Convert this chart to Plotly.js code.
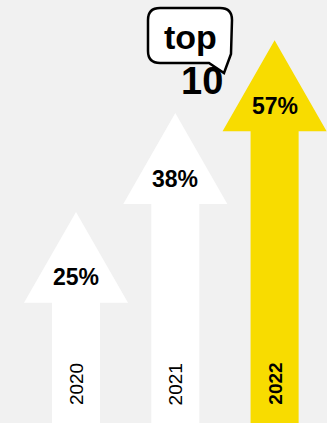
<!DOCTYPE html>
<html>
<head>
<meta charset="utf-8">
<script src="https://cdn.plot.ly/plotly-3.0.1.min.js"></script>
<style>html,body{margin:0;padding:0;background:#f1f1f1;}#chart{width:327px;height:423px;}</style>
</head>
<body>
<div id="chart"></div>
<script>
// Data
var years = ["2020", "2021", "2022"];
var shares = [25, 38, 57];           // percent values shown on arrows
var arrowTop = [49.9, 73.3, 90.5];   // arrow tip height (axis units 0-100)
var highlight = [false, false, true];

// Styles
var W = 327, H = 423;
var FONT = "Liberation Sans, Arial, Helvetica, sans-serif";
var headLen = 21.5, headHalf = 0.524, shaftHalf = 0.242;
var white = "#ffffff", yellow = "#f8dc00";

var traces = years.map(function (yr, i) {
  var t = arrowTop[i];
  return {
    type: "scatter", mode: "lines", fill: "toself",
    x: [i - shaftHalf, i - shaftHalf, i - headHalf, i, i + headHalf, i + shaftHalf, i + shaftHalf, i - shaftHalf],
    y: [-2, t - headLen, t - headLen, t, t - headLen, t - headLen, -2, -2],
    line: { width: 0, color: highlight[i] ? yellow : white },
    fillcolor: highlight[i] ? yellow : white,
    hoverinfo: "skip", showlegend: false
  };
});

var annotations = [];
years.forEach(function (yr, i) {
  annotations.push({
    x: i, y: arrowTop[i] - 15.5, xref: "x", yref: "y", xanchor: "center", yanchor: "middle",
    text: shares[i] + "%", showarrow: false,
    font: { family: FONT, size: 23, color: "#000", weight: "bold" }
  });
  annotations.push({
    x: i, y: 9.2, xref: "x", yref: "y", xanchor: "center", yanchor: "middle",
    text: yr, showarrow: false, textangle: -90,
    font: { family: FONT, size: 19, color: "#000", weight: highlight[i] ? "bold" : "normal" }
  });
});

// speech bubble (decorative) in pixel coords converted to paper
function P(x, y) { return (x / W).toFixed(4) + "," + (1 - y / H).toFixed(4); }
var bubble = "M" + P(160, 8) + " L" + P(220, 8) + " Q" + P(232, 8) + " " + P(232, 20) +
  " L" + P(231, 54) + " L" + P(224, 73) + " L" + P(209, 63) + " L" + P(160, 63) +
  " Q" + P(148, 63) + " " + P(148, 51) + " L" + P(148, 20) + " Q" + P(148, 8) + " " + P(160, 8) + " Z";

annotations.push({
  x: 190 / W, y: 1 - 37 / H, xref: "paper", yref: "paper", xanchor: "center", yanchor: "middle",
  text: "top", showarrow: false,
  font: { family: FONT, size: 34, color: "#000", weight: "bold" }
});
annotations.push({
  x: 202 / W, y: 1 - 81 / H, xref: "paper", yref: "paper", xanchor: "center", yanchor: "middle",
  text: "10", showarrow: false,
  font: { family: FONT, size: 38, color: "#000", weight: "bold" }
});

var layout = {
  width: W, height: H,
  margin: { l: 0, r: 0, t: 0, b: 0, pad: 0 },
  paper_bgcolor: "#f1f1f1", plot_bgcolor: "#f1f1f1",
  xaxis: { range: [-76 / 99.3, (W - 76) / 99.3], visible: false, fixedrange: true },
  yaxis: { range: [0, 100], visible: false, fixedrange: true },
  shapes: [{
    type: "path", xref: "paper", yref: "paper", path: bubble,
    fillcolor: "#ffffff", line: { color: "#000000", width: 2.5 }, layer: "above"
  }],
  annotations: annotations,
  showlegend: false
};

Plotly.newPlot("chart", traces, layout, { staticPlot: true, displayModeBar: false });
</script>
</body>
</html>
